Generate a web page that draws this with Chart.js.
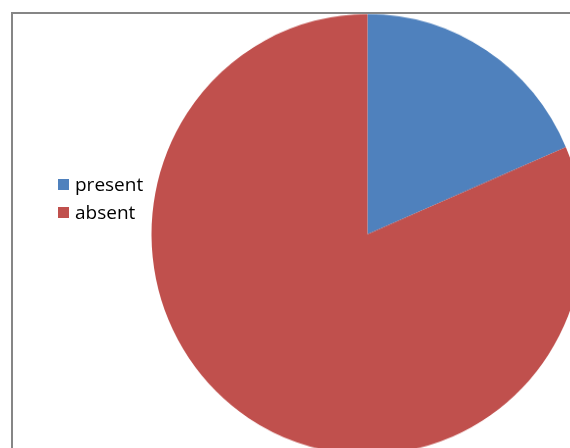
<!DOCTYPE html>
<html>
<head>
<meta charset="utf-8">
<script src="https://cdn.jsdelivr.net/npm/chart.js@4/dist/chart.umd.min.js"></script>
<style>
  html, body { margin: 0; padding: 0; background: #fff; overflow: hidden; width: 570px; height: 448px; }
  #wrap { position: relative; width: 570px; height: 448px; overflow: hidden; }
  #myChart { position: absolute; left: 0; top: 0; }
  #frame { position: absolute; left: 11px; top: 12px; width: 600px; height: 480px; border-left: 2px solid #868686; border-top: 2px solid #868686; pointer-events: none; }
  #legend { position: absolute; left: 58px; top: 170px; font-family: "Open Sans", sans-serif; font-size: 19px; color: #000; }
  .item { display: flex; align-items: center; height: 28px; }
  .box { width: 11px; height: 11px; margin-right: 6px; }
</style>
</head>
<body>
<div id="wrap">
  <canvas id="myChart" width="600" height="460" style="width:600px;height:468.5px"></canvas>
  <div id="frame"></div>
  <div id="legend"></div>
</div>
<script>
const labels = ["present", "absent"];
const values = [5, 22];
const colors = ["#4F81BD", "#C0504D"];

const legend = document.getElementById("legend");
for (let i = 0; i < labels.length; i++) {
  legend.innerHTML += `<div class="item"><span class="box" style="background:${colors[i]}"></span>${labels[i]}</div>`;
}

const chartData = {
  labels: labels,
  datasets: [
    {
      data: values,
      backgroundColor: colors,
      borderWidth: 0,
      hoverOffset: 0,
    },
  ],
};

const config = {
  type: "pie",
  data: chartData,
  options: {
    responsive: false,
    animation: false,
    events: [],
    layout: { padding: { left: 151.5, right: 16.5, top: 13.75, bottom: 14.25 } },
    plugins: {
      legend: { display: false },
      tooltip: { enabled: false },
    },
  },
};

const myChart = new Chart(document.getElementById("myChart"), config);
</script>
</body>
</html>
